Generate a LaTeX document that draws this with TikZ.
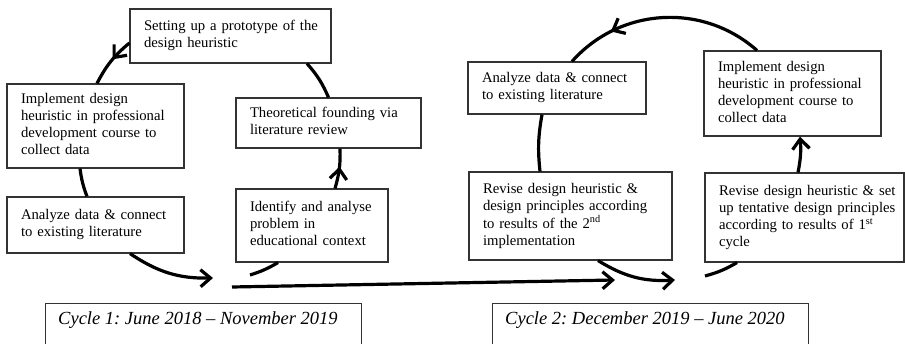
\documentclass[tikz,border=0pt]{standalone}
\usepackage{fontspec}
\setmainfont{Liberation Serif}
\usetikzlibrary{arrows.meta,decorations.markings,calc}
\newcommand{\lns}[1]{\begin{tabular}{@{}l@{}}#1\end{tabular}}
\frenchspacing
\begin{document}
\begin{tikzpicture}[x=1pt,y=-1pt,
  box/.style={draw=black!80, line width=1.1pt, rectangle, inner xsep=14pt, inner ysep=0pt,
    font=\fontsize{14.7}{17}\selectfont, align=left},
  cbox/.style={draw=black!80, line width=1.1pt, rectangle, minimum width=316pt, minimum height=80pt, anchor=north west},
  ctext/.style={font=\fontsize{18.5}{22}\selectfont\itshape\frenchspacing, inner sep=0pt, anchor=base west},
  conn/.style={line width=3.2pt, black},
  tip/.style={-{Straight Barb[length=10pt,width=17pt]}},
  midarrow/.style={postaction={decorate}, decoration={markings,
    mark=at position #1 with {\arrow{Straight Barb[length=10pt,width=17pt]}}}}
]
\clip (0,0) rectangle (905,344);
\fill[white] (0,0) rectangle (905,344);

% ---- cycle 1 boxes
\node[box, text width=173pt, minimum height=54pt] (setup) at (230.5,36)
  {\lns{Setting up a prototype of the\\design heuristic}};
\node[box, text width=149pt, minimum height=84pt] (impl1) at (95.5,126)
  {\lns{Implement design\\heuristic in professional\\development course to\\collect data}};
\node[box, text width=157pt, minimum height=50pt] (theo) at (328.5,123)
  {\lns{Theoretical founding via\\literature review}};
\node[box, text width=149pt, minimum height=56pt] (ana1) at (95.5,225)
  {\lns{Analyze data \& connect\\to existing literature}};
\node[box, text width=124pt, minimum height=73pt] (ident) at (312,225.5)
  {\lns{Identify and analyse\\problem in\\educational context}};

% ---- cycle 2 boxes
\node[box, text width=150pt, minimum height=52pt] (ana2) at (557,88)
  {\lns{Analyze data \& connect\\to existing literature}};
\node[box, text width=149pt, minimum height=85pt] (impl2) at (792.5,93.5)
  {\lns{Implement design\\heuristic in professional\\development course to\\collect data}};
\node[box, text width=175pt, minimum height=88pt] (rev2) at (570.5,216)
  {\lns{Revise design heuristic \&\\design principles according\\to results of the 2\textsuperscript{nd}\\implementation}};
\node[box, text width=171pt, minimum height=89pt] (rev1) at (804.5,217.5)
  {\lns{Revise design heuristic \& set\\up tentative design principles\\according to results of 1\textsuperscript{st}\\cycle}};

% ---- cycle labels
\node[cbox] (cyc1) at (45,303) {};
\node[ctext] (cyc1t) at ($(cyc1.north west)+(13,22)$) {Cycle 1: June 2018 – November 2019};
\node[cbox] (cyc2) at (492,303) {};
\node[ctext] (cyc2t) at ($(cyc2.north west)+(13,22)$) {Cycle 2: December 2019 – June 2020};

% ---- free ends
\coordinate (s1) at (250,275);
\coordinate (e1) at (213,278);
\coordinate (l1) at (232,287);
\coordinate (l2) at (615,280);
\coordinate (s2) at (705,276);
\coordinate (e2) at (675,280);

% ---- cycle 1 connectors
\draw[conn] (s1) to[bend right=6.5] ([xshift=-34pt]ident.south);
\draw[conn, midarrow=0.55] ([xshift=23pt]ident.north) to[bend right=9] ([xshift=11.5pt]theo.south);
\draw[conn] (theo.north) to[bend right=9] ([xshift=76.5pt]setup.south);
\draw[conn, midarrow=0.45] ([yshift=-7pt]setup.west) to[bend right=11.5] ([xshift=1.5pt]impl1.north);
\draw[conn] ([xshift=-15.5pt]impl1.south) to[bend right=6.5] ([xshift=-8.5pt]ana1.north);
\draw[conn, tip] ([xshift=34.5pt]ana1.south) to[bend right=17.5] (e1);

% ---- long arrow
\draw[conn, tip] (l1) -- (l2);

% ---- cycle 2 connectors
\draw[conn] (s2) to[bend right=7.5] ([xshift=-67.5pt]rev1.south);
\draw[conn, tip] ([xshift=-6.5pt]rev1.north) to[bend right=8] ([xshift=7.5pt]impl2.south);
\draw[conn, midarrow=0.76] ([xshift=-35.5pt]impl2.north) to[bend right=45] ([xshift=15pt]ana2.north);
\draw[conn] ([xshift=-15pt]ana2.south) to[bend right=8] ([xshift=-30.5pt]rev2.north);
\draw[conn, tip] ([xshift=27.5pt]rev2.south) to[bend right=17.5] (e2);
\end{tikzpicture}
\end{document}
